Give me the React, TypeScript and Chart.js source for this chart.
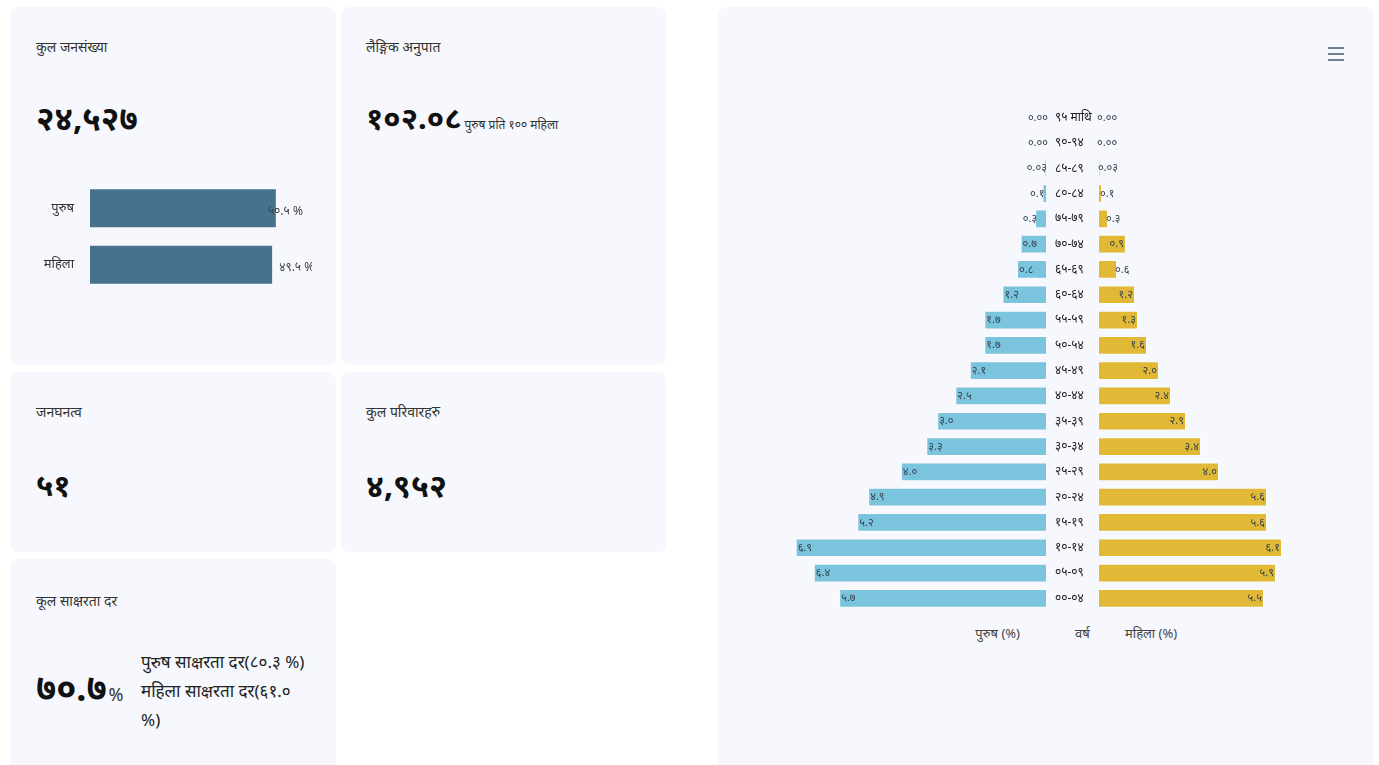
import React, { useEffect, useRef } from 'react';
import { Chart, registerables } from 'chart.js';
Chart.register(...registerables);

const ageGroups = ['९५ माथि', '९०-९४', '८५-८९', '८०-८४', '७५-७९', '७०-७४', '६५-६९', '६०-६४', '५५-५९', '५०-५४', '४५-४९', '४०-४४', '३५-३९', '३०-३४', '२५-२९', '२०-२४', '१५-१९', '१०-१४', '०५-०९', '००-०४'];
const malePct = [0, 0, 0.03, 0.1, 0.3, 0.7, 0.8, 1.2, 1.7, 1.7, 2.1, 2.5, 3.0, 3.3, 4.0, 4.9, 5.2, 6.9, 6.4, 5.7];
const femalePct = [0, 0, 0.03, 0.1, 0.3, 0.9, 0.6, 1.2, 1.3, 1.6, 2.0, 2.4, 2.9, 3.4, 4.0, 5.6, 5.6, 6.1, 5.9, 5.5];
const genderLabels = ['पुरुष', 'महिला'];
const genderShare = [50.5, 49.5];

const FONT = "'Noto Sans', 'DejaVu Sans', sans-serif";
const DEV = '०१२३४५६७८९';
const toDev = (s: string) => s.replace(/[0-9]/g, (d) => DEV[+d]);
const fmt = (v: number) => (v < 0.1 ? v.toFixed(2) : v.toFixed(1));

const pyramidLabels = (dirSign: number) => ({
  id: 'pyrLabels' + dirSign,
  afterDatasetsDraw(chart: any) {
    const ctx = chart.ctx;
    const meta = chart.getDatasetMeta(0);
    const data = chart.data.datasets[0].data as number[];
    ctx.save();
    ctx.font = `11px ${FONT}`;
    ctx.fillStyle = '#36424f';
    ctx.textBaseline = 'middle';
    meta.data.forEach((el: any, i: number) => {
      const text = toDev(fmt(data[i]));
      const w = ctx.measureText(text).width;
      const len = Math.abs(el.base - el.x);
      const anchor = el.x + dirSign * 2;
      const fits = w + 6 <= len;
      if (dirSign > 0) ctx.textAlign = fits ? 'left' : 'right';
      else ctx.textAlign = fits ? 'right' : 'left';
      ctx.fillText(text, anchor, el.y);
    });
    ctx.restore();
  },
});

const shareLabels = {
  id: 'shareLabels',
  afterDatasetsDraw(chart: any) {
    const ctx = chart.ctx;
    const meta = chart.getDatasetMeta(0);
    const data = chart.data.datasets[0].data as number[];
    const offs = [-9, 6];
    ctx.save();
    ctx.font = `12px ${FONT}`;
    ctx.fillStyle = '#444';
    ctx.textBaseline = 'middle';
    ctx.textAlign = 'left';
    meta.data.forEach((el: any, i: number) => {
      ctx.fillText(toDev(data[i].toFixed(1)) + ' %', el.x + offs[i], el.y + 3);
    });
    ctx.restore();
  },
};

const fitY = (width: number) => (s: any) => {
  s.width = width;
  s.paddingTop = 0;
  s.paddingBottom = 0;
};

function useChart(ref: React.RefObject<HTMLCanvasElement>, make: (c: HTMLCanvasElement) => Chart) {
  useEffect(() => {
    if (!ref.current) return;
    const ch = make(ref.current);
    return () => ch.destroy();
  }, []);
}

export default function App() {
  const maleRef = useRef<HTMLCanvasElement>(null);
  const femaleRef = useRef<HTMLCanvasElement>(null);
  const shareRef = useRef<HTMLCanvasElement>(null);

  useChart(maleRef, (c) =>
    new Chart(c, {
      type: 'bar',
      data: {
        labels: ageGroups,
        datasets: [{ data: malePct, backgroundColor: '#7ac4dd', borderColor: 'rgba(255,255,255,0.5)', borderWidth: 1, barPercentage: 0.74, categoryPercentage: 1 }],
      },
      options: {
        indexAxis: 'y',
        responsive: false,
        animation: false,
        layout: { padding: 0 },
        plugins: { legend: { display: false }, tooltip: { enabled: false } },
        scales: {
          x: { display: false, reverse: true, min: 0, max: 7 },
          y: {
            position: 'right',
            grid: { display: false, drawTicks: false },
            border: { display: false },
            ticks: { color: '#222', padding: 9, font: { size: 12, family: FONT } },
            afterFit: fitY(53),
          },
        },
      },
      plugins: [pyramidLabels(1)],
    } as any)
  );

  useChart(femaleRef, (c) =>
    new Chart(c, {
      type: 'bar',
      data: {
        labels: ageGroups,
        datasets: [{ data: femalePct, backgroundColor: '#e1b936', borderColor: 'rgba(255,255,255,0.5)', borderWidth: 1, barPercentage: 0.74, categoryPercentage: 1 }],
      },
      options: {
        indexAxis: 'y',
        responsive: false,
        animation: false,
        layout: { padding: { left: 10, right: 0, top: 0, bottom: 0 } },
        plugins: { legend: { display: false }, tooltip: { enabled: false } },
        scales: {
          x: { display: false, min: 0, max: 7 },
          y: { display: false },
        },
      },
      plugins: [pyramidLabels(-1)],
    } as any)
  );

  useChart(shareRef, (c) =>
    new Chart(c, {
      type: 'bar',
      data: {
        labels: genderLabels,
        datasets: [{ data: genderShare, backgroundColor: '#46728f', borderColor: 'rgba(255,255,255,0.6)', borderWidth: 1, barPercentage: 0.71, categoryPercentage: 1 }],
      },
      options: {
        indexAxis: 'y',
        responsive: false,
        animation: false,
        layout: { padding: 0 },
        plugins: { legend: { display: false }, tooltip: { enabled: false } },
        scales: {
          x: { display: false, min: 0, max: 60 },
          y: {
            grid: { display: false, drawTicks: false },
            border: { display: false },
            ticks: { color: '#333', padding: 16, font: { size: 13, family: FONT } },
            afterFit: fitY(70),
          },
        },
      },
      plugins: [shareLabels],
    } as any)
  );

  const card = (l: number, t: number, w: number, h: number): React.CSSProperties => ({
    position: 'absolute', left: l, top: t, width: w, height: h, background: '#f6f8fd', borderRadius: 8,
  });
  const txt = (l: number, cy: number, size: number, extra: React.CSSProperties = {}): React.CSSProperties => ({
    position: 'absolute', left: l, top: cy - size * 0.7, lineHeight: `${size * 1.4}px`, fontSize: size, whiteSpace: 'nowrap', color: '#333', ...extra,
  });
  const big: React.CSSProperties = { fontWeight: 700, color: '#111' };

  return (
    <div style={{ position: 'absolute', left: 0, top: 0, width: 1379, height: 765, overflow: 'hidden', background: '#fff', fontFamily: FONT }}>
      <div style={card(10, 7, 326, 358)} />
      <div style={card(341, 7, 325, 358)} />
      <div style={card(10, 372, 326, 180)} />
      <div style={card(341, 372, 325, 180)} />
      <div style={card(10, 559, 326, 230)} />
      <div style={card(718, 7, 656, 780)} />

      <div style={txt(36, 47, 14)}>कुल जनसंख्या</div>
      <div style={txt(36, 118, 33, big)}>२४,५२७</div>
      <canvas ref={shareRef} width={292} height={113} style={{ position: 'absolute', left: 20, top: 180, width: 292, height: 113 }} />

      <div style={txt(366, 47, 14)}>लैङ्गिक अनुपात</div>
      <div style={{ ...txt(366, 118, 31), display: 'flex', alignItems: 'baseline' }}>
        <span style={big}>१०२.०८</span>
        <span style={{ fontSize: 12, marginLeft: 3, color: '#333' }}>पुरुष प्रति १०० महिला</span>
      </div>

      <div style={txt(36, 412, 14)}>जनघनत्व</div>
      <div style={txt(36, 485, 31, big)}>५१</div>

      <div style={txt(366, 412, 14)}>कुल परिवारहरु</div>
      <div style={txt(366, 485, 32, big)}>४,९५२</div>

      <div style={txt(36, 601, 14)}>कूल साक्षरता दर</div>
      <div style={{ ...txt(36, 688, 36), display: 'flex', alignItems: 'baseline' }}>
        <span style={big}>७०.७</span>
        <span style={{ fontSize: 18, marginLeft: 2, color: '#333' }}>%</span>
      </div>
      <div style={{ position: 'absolute', left: 141, top: 647, width: 166, fontSize: 17, lineHeight: '29px', color: '#222' }}>
        पुरुष साक्षरता दर(८०.३ %) महिला साक्षरता दर(६१.० %)
      </div>

      <div style={{ position: 'absolute', left: 1328, top: 47, width: 16 }}>
        {[0, 1, 2].map((i) => (
          <div key={i} style={{ height: 2, background: '#6e7f91', marginBottom: i < 2 ? 4 : 0 }} />
        ))}
      </div>

      <canvas ref={maleRef} width={307} height={506} style={{ position: 'absolute', left: 792, top: 105, width: 307, height: 506 }} />
      <canvas ref={femaleRef} width={220} height={506} style={{ position: 'absolute', left: 1089, top: 105, width: 220, height: 506 }} />

      <div style={{ ...txt(0, 633, 13, { color: '#444' }), width: 1020, textAlign: 'right', left: 0 }}>पुरुष (%)</div>
      <div style={txt(1075, 633, 13, { color: '#444' })}>वर्ष</div>
      <div style={txt(1125, 633, 13, { color: '#444' })}>महिला (%)</div>
    </div>
  );
}
